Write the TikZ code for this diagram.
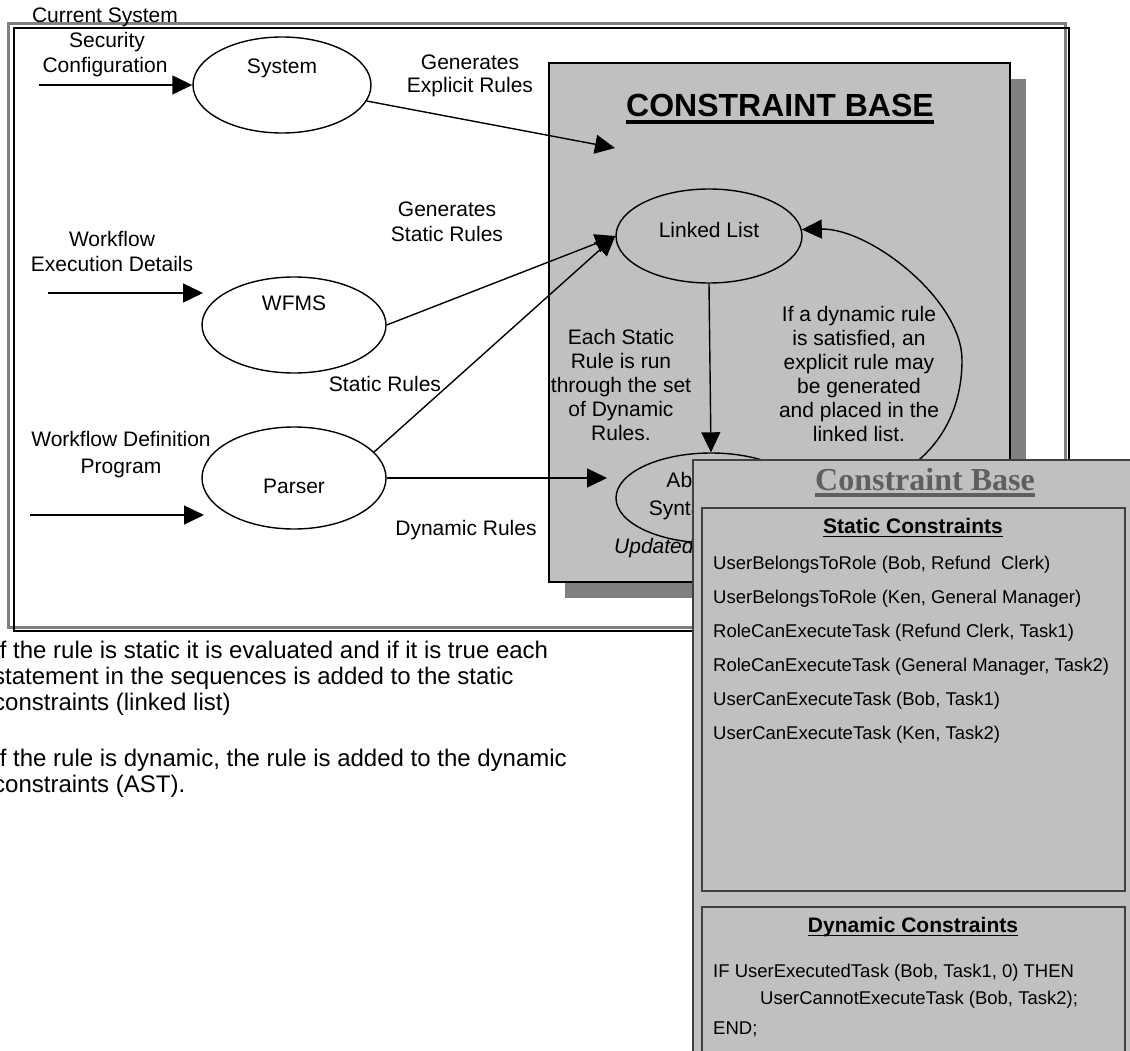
\documentclass[tikz,border=0pt]{standalone}
\usepackage{fontspec}
\setmainfont{Liberation Sans}
\newfontfamily\timesfam{Liberation Serif}
\usetikzlibrary{shapes.geometric,arrows.meta}
\definecolor{cbgray}{HTML}{C0C0C0}
\definecolor{shgray}{HTML}{808080}
\definecolor{titlegray}{HTML}{5F5F5F}
\definecolor{panelline}{HTML}{404040}
\tikzset{
  lbl/.style={anchor=base, inner sep=0pt, font=\fontsize{21}{24}\selectfont},
  lftlbl/.style={anchor=base west, inner sep=0pt, font=\fontsize{21}{24}\selectfont},
  entry/.style={anchor=base west, inner sep=0pt, font=\fontsize{18.5}{22}\selectfont},
  bigtext/.style={anchor=base west, inner sep=0pt, font=\fontsize{24}{27}\selectfont},
  ell/.style={ellipse, draw, line width=1.4pt, inner sep=0pt},
  arr/.style={line width=1.4pt, -{Triangle[length=20pt,width=19pt]}},
  boxline/.style={draw=panelline, line width=1.2pt},
}
\begin{document}
\begin{tikzpicture}[x=1pt,y=-1pt]
\useasboundingbox (0,0) rectangle (1130,1051);
\clip (0,0) rectangle (1130,1051);
% outer double frame
\draw[shgray, line width=2.5pt] (8.7,23.5) rectangle (1065.3,627.5);
\draw[black, line width=2pt] (13.8,28) rectangle (1068.7,631.2);
% constraint base box
\fill[shgray] (565,79) rectangle (1026,598);
\draw[fill=cbgray, line width=2pt] (549,63) rectangle (1010,582);
\node[anchor=base, inner sep=0pt, font=\bfseries\fontsize{32}{36}\selectfont] (cbtitle) at (780,117) {CONSTRAINT BASE};
\draw[line width=3.5pt] ([yshift=-5pt]cbtitle.base west) -- ([yshift=-5pt]cbtitle.base east);
% System
\node[lbl] (cs) at (105,23) {Current System};
\node[lbl] (sec) at (107,48) {Security};
\node[lbl] (conf) at (105,73) {Configuration};
\coordinate (sysin) at (39,85);
\node[ell, minimum width=178pt, minimum height=96pt] (sys) at (282,85) {};
\node[lbl] (syst) at (282,74) {System};
\draw[arr] (sysin) -- (sys.west);
\node[lbl] (ge1) at (470,70) {Generates};
\node[lbl] (ge2) at (470,93) {Explicit Rules};
\coordinate (cbtgt) at (615,148);
\draw[arr] (sys) -- (cbtgt);
% WFMS
\node[lbl] (wf1) at (112,247) {Workflow};
\node[lbl] (wf2) at (112,271) {Execution Details};
\coordinate (wfa) at (48,293);
\coordinate (wfb) at (203,293);
\draw[arr] (wfa) -- (wfb);
\node[ell, minimum width=184pt, minimum height=96pt] (wfms) at (294,325) {};
\node[lbl] (wfmst) at (294,310) {WFMS};
\node[lbl] (gs1) at (447,217) {Generates};
\node[lbl] (gs2) at (447,241) {Static Rules};
\node[lbl] (sr) at (385,391) {Static Rules};
% Parser
\node[lbl] (wd1) at (121,446) {Workflow Definition};
\node[lbl] (wd2) at (121,473) {Program};
\coordinate (pa) at (30,515);
\coordinate (pb) at (204,515);
\draw[arr] (pa) -- (pb);
\node[ell, minimum width=184pt, minimum height=102pt] (parser) at (294,478) {};
\node[lbl] (part) at (294,493) {Parser};
\node[lbl] (dr) at (466,535) {Dynamic Rules};
% Linked list and AST
\node[ell, minimum width=186pt, minimum height=94pt] (ll) at (709,236) {};
\node[lbl] (llt) at (709,238) {Linked List};
\node[ell, minimum width=190pt, minimum height=90pt] (ast) at (711,498) {};
\node[lbl] (ast1) at (705,487) {Abstract};
\node[lbl] (ast2) at (705,515) {Syntax Tree};
\node[lftlbl, font=\itshape\fontsize{21}{24}\selectfont] (upd) at (614,553) {Updated};
\draw[arr] (wfms.east) -- (ll.west);
\draw[arr] (parser.18) -- (ll.west);
\coordinate (astin) at (607,478);
\draw[arr] (parser.east) -- (astin);
\draw[arr] (ll.south) -- (ast.north);
\draw[arr] (ast.east) .. controls (905,495) and (962,440) .. (962,360) .. controls (962,300) and (870,228) .. (ll.4);
\foreach \t [count=\i] in {Each Static, Rule is run, through the set, of Dynamic, Rules.}
  \node[lbl] (es\i) at (621,320+24*\i) {\t};
\foreach \t [count=\i] in {If a dynamic rule, {is satisfied, an}, explicit rule may, be generated, and placed in the, linked list.}
  \node[lbl] (dy\i) at (859,297+24*\i) {\t};
% bottom text
\node[bigtext] (bt1) at (-7,658) {If the rule is static it is evaluated and if it is true each};
\node[bigtext] (bt2) at (-7,684) {statement in the sequences is added to the static};
\node[bigtext] (bt3) at (-7,710) {constraints (linked list)};
\node[bigtext] (bt4) at (-7,766) {If the rule is dynamic, the rule is added to the dynamic};
\node[bigtext] (bt5) at (-7,792) {constraints (AST).};
% overlay panel
\draw[boxline, fill=cbgray] (693,460) rectangle (1140,1060);
\node[anchor=base, inner sep=0pt, font=\timesfam\bfseries\fontsize{32}{36}\selectfont, text=titlegray] (pt) at (925,490) {Constraint Base};
\draw[titlegray, line width=4pt] ([yshift=-5pt]pt.base west) -- ([yshift=-5pt]pt.base east);
\draw[boxline] (702,508) rectangle (1125,891);
\node[lbl, font=\bfseries\fontsize{21}{24}\selectfont] (stc) at (913,533) {Static Constraints};
\draw[line width=1.5pt] ([yshift=-3.5pt]stc.base west) -- ([yshift=-3.5pt]stc.base east);
\foreach \t [count=\i] in {{UserBelongsToRole (Bob, Refund~ Clerk)}, {UserBelongsToRole (Ken, General Manager)}, {RoleCanExecuteTask (Refund Clerk, Task1)}, {RoleCanExecuteTask (General Manager, Task2)}, {UserCanExecuteTask (Bob, Task1)}, {UserCanExecuteTask (Ken, Task2)}}
  \node[entry] (se\i) at (713,536+33.9*\i) {\t};
\draw[boxline] (702,907) rectangle (1125,1060);
\node[lbl, font=\bfseries\fontsize{21}{24}\selectfont] (dyc) at (913,932) {Dynamic Constraints};
\draw[line width=1.5pt] ([yshift=-3.5pt]dyc.base west) -- ([yshift=-3.5pt]dyc.base east);
\node[entry] (d1) at (713,977) {IF UserExecutedTask (Bob, Task1, 0) THEN};
\node[entry] (d2) at (760,1004) {UserCannotExecuteTask (Bob, Task2);};
\node[entry] (d3) at (713,1034) {END;};
\end{tikzpicture}
\end{document}
